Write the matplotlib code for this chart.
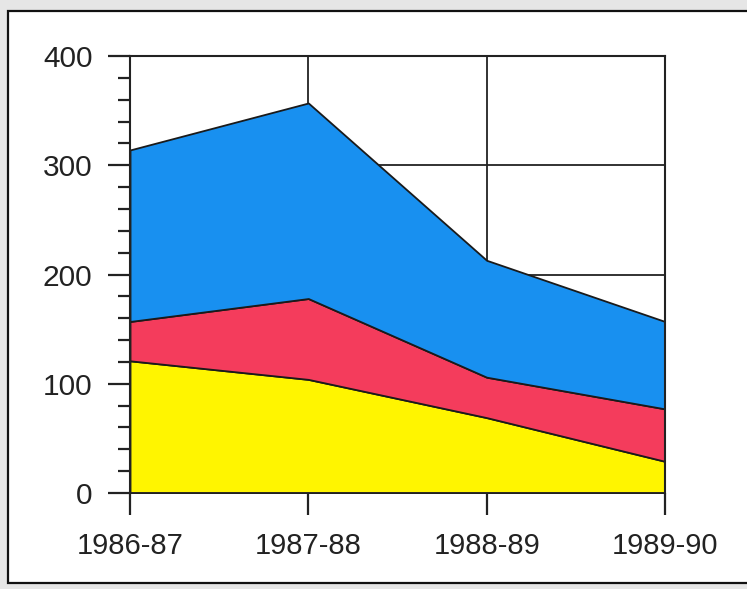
import matplotlib
matplotlib.use("Agg")
import matplotlib.pyplot as plt
from matplotlib.patches import Rectangle
from matplotlib.ticker import MultipleLocator

categories = ["1986-87", "1987-88", "1988-89", "1989-90"]
yellow_vals = [121, 104, 69, 29]
red_vals = [36, 74, 37, 48]
blue_vals = [157, 179, 107, 80]

colors = ["#fff500", "#f43c5c", "#1890f0"]

plt.rcParams['font.family'] = ['Liberation Sans', 'DejaVu Sans']

fig = plt.figure(figsize=(7.47, 5.89), dpi=100)
fig.patch.set_facecolor("#e6e6e6")
# scanned page frame
frame = Rectangle((8 / 747, 6 / 589), 1.2, (578 - 6) / 589, transform=fig.transFigure,
                  facecolor="white", edgecolor="#111111", linewidth=1.6, zorder=-5)
fig.patches.append(frame)

ax = fig.add_axes([130 / 747, 96 / 589, 535 / 747, 437 / 589])
ax.set_zorder(2)
ax.set_facecolor("white")
x = list(range(len(categories)))
ax.stackplot(x, yellow_vals, red_vals, blue_vals, colors=colors,
             edgecolor="#1a1a1a", linewidth=1.3, zorder=3)

ax.set_xlim(0, 3)
ax.set_ylim(0, 400)
ax.set_xticks(x)
ax.set_xticklabels(categories)
ax.yaxis.set_major_locator(MultipleLocator(100))
ax.yaxis.set_minor_locator(MultipleLocator(20))

ax.grid(True, which="major", color="#222222", linewidth=1.3, zorder=1)
ax.set_axisbelow(True)

for s in ["top", "right", "left"]:
    ax.spines[s].set_color("#222222")
    ax.spines[s].set_linewidth(1.5)
    ax.spines[s].set_zorder(4)
ax.spines["bottom"].set_color("#222222")
ax.spines["bottom"].set_linewidth(1.3)
ax.spines["bottom"].set_zorder(4)

ax.tick_params(axis="y", which="major", length=16, width=1.6, color="#222222",
               labelsize=21.5, labelcolor="#222222", pad=11)
ax.tick_params(axis="y", which="minor", length=9, width=1.6, color="#222222")
ax.tick_params(axis="x", which="major", length=16, width=1.6, color="#222222",
               labelsize=21, labelcolor="#222222", pad=12)

fig.savefig("out.png", dpi=100, facecolor=fig.get_facecolor())
